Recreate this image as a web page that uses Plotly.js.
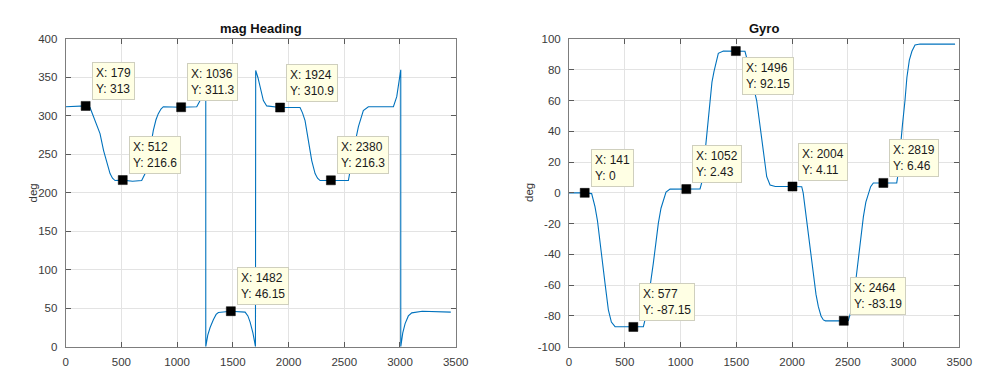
<!DOCTYPE html>
<html>
<head>
<meta charset="utf-8">
<script src="https://cdn.plot.ly/plotly-3.0.1.min.js"></script>
<style>html,body{margin:0;padding:0;background:#fff;}#chart{width:999px;height:389px;}</style>
</head>
<body>
<div id="chart"></div>
<script>
// ---- mag Heading (left) ----
const magX = [0, 179, 218, 260, 308, 340, 369, 398, 420, 443, 512, 600, 682, 705, 726, 756, 786, 810, 831, 855, 876, 1036, 1176, 1206, 1235, 1257,
  1257, 1275, 1296, 1325, 1350, 1370, 1482, 1610, 1635, 1655, 1680, 1703,
  1705, 1725, 1745, 1774, 1804, 1924, 2103, 2125, 2148, 2178, 2208, 2238, 2260, 2283, 2380, 2537, 2560, 2582, 2627, 2671, 2716, 2941, 2971, 2991, 3007,
  3007, 3025, 3046, 3075, 3106, 3200, 3456];
const magY = [312, 313, 311, 295, 277, 255, 238, 225, 219, 216, 216.6, 215, 216, 222, 229, 255, 281, 295, 303, 309, 312, 311.3, 312, 320, 336, 360,
  0, 15, 25, 35, 42, 44.5, 46.15, 45, 40, 32, 18, 0,
  359, 350, 338, 320, 313, 310.9, 311, 304, 294, 268, 242, 225, 219, 216, 216.3, 216, 235, 255, 286, 307, 312, 312, 325, 342, 360,
  0, 18, 30, 40, 44, 46, 45];
const magTipX = [179, 512, 1036, 1482, 1924, 2380];
const magTipY = [313, 216.6, 311.3, 46.15, 310.9, 216.3];

// ---- Gyro (right) ----
const gyroX = [0, 141, 203, 233, 255, 278, 300, 323, 353, 380, 413, 577, 667, 690, 711, 733, 756, 780, 801, 825, 846, 870, 906, 1052, 1175, 1195, 1220, 1242, 1264, 1282, 1300, 1320, 1339, 1384, 1496, 1578, 1600, 1623, 1650, 1683, 1705, 1728, 1750, 1773, 1803, 1850, 2004, 2087, 2100, 2116, 2140, 2161, 2191, 2215, 2236, 2260, 2281, 2300, 2464, 2505, 2525, 2550, 2575, 2595, 2620, 2640, 2662, 2684, 2705, 2729, 2819, 2939, 2950, 2968, 2990, 3013, 3030, 3052, 3075, 3103, 3148, 3462];
const gyroY = [0, 0, -0.5, -9, -18, -30.6, -45, -58.8, -76, -84, -87, -87.15, -87, -80, -69.6, -58, -45.8, -32, -19.8, -10, -4.6, 0.5, 2.43, 2.43, 2.5, 8, 25.8, 43, 60, 72, 78.8, 86, 90.7, 92.2, 92.15, 92, 86, 78.8, 70, 60, 48, 34.4, 22, 10.5, 5.1, 4.1, 4.11, 4, 0, -9, -22, -35, -54.5, -66, -74, -80, -82.6, -83.2, -83.19, -83, -78, -69.6, -55, -41.5, -27, -15.5, -6, -0.3, 4, 6.4, 6.46, 6.5, 12, 27.9, 44, 60, 75, 86.3, 92, 96.1, 96.7, 96.7];
const gyroTipX = [141, 577, 1052, 1496, 2004, 2464, 2819];
const gyroTipY = [0, -87.15, 2.43, 92.15, 4.11, -83.19, 6.46];
const gyroTipBelow = [false, false, false, true, false, false, false];

const xTicks = [0, 500, 1000, 1500, 2000, 2500, 3000, 3500];
const magYTicks = [0, 50, 100, 150, 200, 250, 300, 350, 400];
const gyroYTicks = [-100, -80, -60, -40, -20, 0, 20, 40, 60, 80, 100];

const FONT = 'Liberation Sans, Arial, Helvetica, sans-serif';
const lineColor = '#0072BD';

const traces = [
  {x: magX, y: magY, type: 'scatter', mode: 'lines', line: {color: lineColor, width: 1.1}, xaxis: 'x', yaxis: 'y', hoverinfo: 'skip'},
  {x: magTipX, y: magTipY, type: 'scatter', mode: 'markers', marker: {symbol: 'square', size: 9, color: '#000', line: {color: '#000', width: 0.5}}, xaxis: 'x', yaxis: 'y'},
  {x: gyroX, y: gyroY, type: 'scatter', mode: 'lines', line: {color: lineColor, width: 1.1}, xaxis: 'x2', yaxis: 'y2', hoverinfo: 'skip'},
  {x: gyroTipX, y: gyroTipY, type: 'scatter', mode: 'markers', marker: {symbol: 'square', size: 9, color: '#000', line: {color: '#000', width: 0.5}}, xaxis: 'x2', yaxis: 'y2'}
];

function tip(xref, yref, x, y, below) {
  return {
    xref: xref, yref: yref, x: x, y: y,
    text: 'X: ' + x + '<br>Y: ' + y,
    showarrow: false, align: 'left',
    xanchor: 'left', yanchor: below ? 'top' : 'bottom',
    xshift: 6, yshift: below ? -6 : 6,
    bgcolor: '#FFFFE4', bordercolor: '#CFCFBE', borderwidth: 1, borderpad: 3,
    font: {family: FONT, size: 12, color: '#1a1a1a'}
  };
}

const annotations = [];
magTipX.forEach((x, i) => annotations.push(tip('x', 'y', x, magTipY[i], false)));
gyroTipX.forEach((x, i) => annotations.push(tip('x2', 'y2', x, gyroTipY[i], gyroTipBelow[i])));

// chart titles and y labels
annotations.push({xref: 'paper', yref: 'paper', x: 261 / 999, y: 1 - 28 / 389, text: '<b>mag Heading</b>', showarrow: false, xanchor: 'center', yanchor: 'middle', font: {family: FONT, size: 13, color: '#111'}});
annotations.push({xref: 'paper', yref: 'paper', x: 764 / 999, y: 1 - 28 / 389, text: '<b>Gyro</b>', showarrow: false, xanchor: 'center', yanchor: 'middle', font: {family: FONT, size: 13, color: '#111'}});
annotations.push({xref: 'paper', yref: 'paper', x: 32.5 / 999, y: 1 - 193 / 389, text: 'deg', textangle: -90, showarrow: false, xanchor: 'center', yanchor: 'middle', font: {family: FONT, size: 11.5, color: '#333'}});
annotations.push({xref: 'paper', yref: 'paper', x: 529 / 999, y: 1 - 193 / 389, text: 'deg', textangle: -90, showarrow: false, xanchor: 'center', yanchor: 'middle', font: {family: FONT, size: 11.5, color: '#333'}});

function axisBase(extra) {
  return Object.assign({
    showline: true, linecolor: '#7d7d7d', linewidth: 1, mirror: 'ticks',
    ticks: 'inside', ticklen: 5, tickcolor: '#5a5a5a', tickwidth: 1,
    showgrid: true, gridcolor: '#e3e3e3', gridwidth: 1, zeroline: false,
    tickfont: {family: FONT, size: 11.5, color: '#3a3a3a'},
    fixedrange: true, automargin: false
  }, extra);
}

const yDomain = [1 - 346.7 / 389, 1 - 39 / 389];

const layout = {
  width: 999, height: 389,
  margin: {l: 0, r: 0, t: 0, b: 0},
  paper_bgcolor: '#fff', plot_bgcolor: '#fff',
  showlegend: false,
  hovermode: false,
  font: {family: FONT},
  xaxis: axisBase({domain: [65.7 / 999, 455.7 / 999], range: [0, 3500], tickmode: 'array', tickvals: xTicks, ticktext: xTicks.map(String), anchor: 'y', ticklabelstandoff: 4}),
  yaxis: axisBase({domain: yDomain, range: [0, 400], tickmode: 'array', tickvals: magYTicks, ticktext: magYTicks.map(String), anchor: 'x', ticklabelstandoff: 5}),
  xaxis2: axisBase({domain: [569 / 999, 959.3 / 999], range: [0, 3500], tickmode: 'array', tickvals: xTicks, ticktext: xTicks.map(String), anchor: 'y2', ticklabelstandoff: 4}),
  yaxis2: axisBase({domain: yDomain, range: [-100, 100], tickmode: 'array', tickvals: gyroYTicks, ticktext: gyroYTicks.map(String), anchor: 'x2', ticklabelstandoff: 5}),
  annotations: annotations
};

Plotly.newPlot('chart', traces, layout, {displayModeBar: false, staticPlot: true});
</script>
</body>
</html>
